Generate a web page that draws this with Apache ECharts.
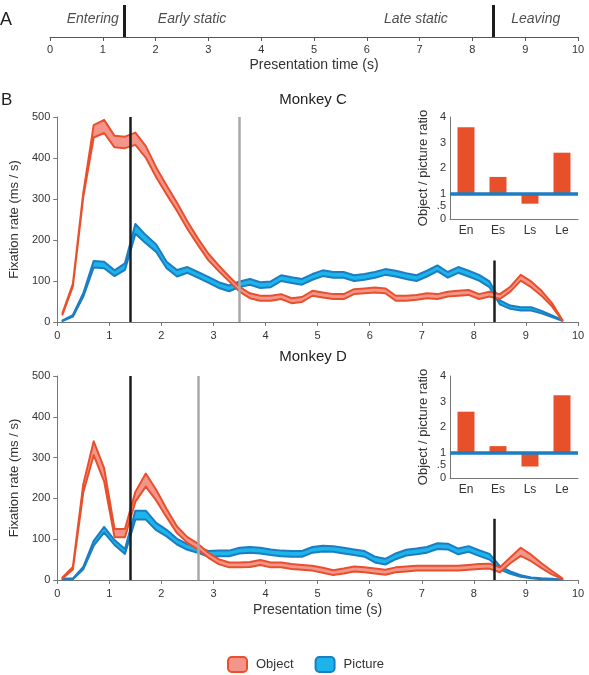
<!DOCTYPE html>
<html>
<head>
<meta charset="utf-8">
<script src="https://cdn.jsdelivr.net/npm/echarts@6/dist/echarts.min.js"></script>
<style>
  html, body { margin: 0; padding: 0; background: #fff; }
  #chart { width: 589px; height: 675px; }
</style>
</head>
<body>
<div id="chart"></div>
<script>
// sample times (s)
const times = [0.1, 0.3, 0.5, 0.7, 0.9, 1.1, 1.3, 1.5, 1.7, 1.9, 2.1, 2.3, 2.5, 2.7, 2.9, 3.1, 3.3, 3.5, 3.7, 3.9,
  4.1, 4.3, 4.5, 4.7, 4.9, 5.1, 5.3, 5.5, 5.7, 5.9, 6.1, 6.3, 6.5, 6.7, 6.9, 7.1, 7.3, 7.5, 7.7, 7.9,
  8.1, 8.3, 8.5, 8.7, 8.9, 9.1, 9.3, 9.5, 9.7];

// Monkey C
const objMeanC = [20, 90, 310, 465, 477, 440, 438, 447, 415, 365, 322, 281, 236, 196, 159, 131, 105, 80, 64, 58,
  58, 62, 52, 55, 70, 66, 62, 62, 74, 76, 78, 76, 58, 58, 60, 64, 62, 68, 70, 72,
  62, 68, 62, 80, 108, 92, 70, 42, 4];
const objErrC = [2, 3, 5, 15, 16, 14, 14, 15, 14, 12, 11, 10, 9, 8, 8, 7, 6, 6, 6, 6,
  6, 6, 6, 6, 6, 6, 6, 6, 6, 6, 6, 6, 6, 6, 6, 6, 6, 6, 6, 6,
  6, 6, 6, 6, 7, 7, 6, 4, 1];
const picMeanC = [3, 15, 66, 141, 139, 119, 135, 227, 202, 180, 139, 119, 127, 115, 103, 90, 82, 92, 98, 90,
  92, 107, 102, 98, 110, 119, 115, 115, 107, 110, 115, 122, 118, 112, 107, 118, 131, 115, 127, 118,
  108, 92, 48, 36, 32, 32, 24, 14, 4];
const picErrC = [1, 2, 4, 8, 8, 7, 8, 12, 10, 9, 8, 8, 7, 7, 7, 7, 7, 7, 7, 7,
  7, 7, 7, 7, 7, 7, 7, 7, 7, 7, 7, 7, 7, 7, 7, 7, 7, 7, 7, 7,
  7, 7, 5, 4, 4, 4, 3, 2, 1];

// Monkey D
const objMeanD = [5, 29, 225, 323, 258, 115, 115, 204, 245, 208, 164, 123, 98, 82, 61, 45, 37, 37, 38, 43,
  37, 37, 33, 31, 29, 24, 18, 22, 27, 25, 22, 19, 25, 27, 29, 29, 29, 29, 29, 31,
  33, 34, 25, 48, 69, 54, 35, 18, 3];
const objErrD = [1, 3, 10, 17, 16, 10, 10, 12, 16, 13, 10, 8, 7, 7, 6, 6, 6, 6, 6, 6,
  6, 6, 6, 6, 6, 6, 6, 6, 6, 6, 6, 6, 6, 6, 6, 6, 6, 6, 6, 6,
  6, 6, 6, 7, 10, 8, 6, 4, 1];
const picMeanD = [2, 3, 29, 90, 123, 92, 70, 159, 159, 131, 115, 94, 81, 74, 64, 65, 65, 72, 74, 72,
  68, 65, 64, 64, 74, 77, 76, 72, 68, 64, 50, 45, 58, 67, 70, 74, 83, 82, 70, 76,
  66, 57, 30, 18, 10, 5, 3, 2, 1];
const picErrD = [1, 1, 3, 6, 7, 6, 6, 11, 11, 9, 8, 7, 7, 7, 7, 7, 7, 7, 7, 7,
  7, 7, 7, 7, 7, 7, 7, 7, 7, 7, 7, 7, 7, 7, 7, 7, 7, 7, 7, 7,
  7, 7, 4, 3, 2, 1, 1, 1, 0];

// phases
const phaseNames = ['Entering', 'Early static', 'Late static', 'Leaving'];
const phaseCenters = [0.81, 2.69, 6.93, 9.2];
const phaseBounds = [1.4, 8.4];
const grayLineC = 3.5;
const grayLineD = 2.7;
const leaveMarkTop = 150;

// object / picture ratio insets
const ratioCats = ['En', 'Es', 'Ls', 'Le'];
const ratioC = [3.6, 1.65, 0.6, 2.6];
const ratioD = [2.6, 1.25, 0.45, 3.25];

const FONT = 'Liberation Sans, Arial, sans-serif';
const RED = '#e8502b', RED_FILL = '#f4958b';
const BLUE = '#1b7dc2', BLUE_FILL = '#1cb4ea';
const AX = '#777';

// mean +/- err drawn as one filled polygon with an outline
function band(name, idx, mean, err, fill, edge, z) {
  const rows = mean.map((m, i) => [times[i], m - err[i], m + err[i]]);
  return {
    type: 'custom', name: name, xAxisIndex: idx, yAxisIndex: idx, z: z, silent: true,
    data: rows, encode: { x: 0, y: [1, 2] },
    renderItem: function (params, api) {
      if (params.dataIndex !== 0) return null;
      const top = rows.map(r => api.coord([r[0], r[2]]));
      const bottom = rows.slice().reverse().map(r => api.coord([r[0], r[1]]));
      return {
        type: 'polygon',
        shape: { points: top.concat(bottom) },
        style: { fill: fill, stroke: edge, lineWidth: 2, lineJoin: 'round' }
      };
    }
  };
}

function vlines(idx, gray) {
  return [
    { type: 'line', xAxisIndex: idx, yAxisIndex: idx, data: [], z: 1, silent: true,
      markLine: { symbol: 'none', silent: true, label: { show: false }, animation: false,
        lineStyle: { color: '#a9a9a9', width: 2.5, type: 'solid' },
        data: [{ xAxis: gray }] } },
    { type: 'line', xAxisIndex: idx, yAxisIndex: idx, data: [], z: 6, silent: true,
      markLine: { symbol: 'none', silent: true, label: { show: false }, animation: false,
        lineStyle: { color: '#1c1c1c', width: 2.5, type: 'solid' },
        data: [{ xAxis: phaseBounds[0] },
          [{ coord: [phaseBounds[1], 0] }, { coord: [phaseBounds[1], leaveMarkTop] }]] } }
  ];
}

function ratioSeries(idx, vals) {
  return [
    { type: 'bar', xAxisIndex: idx, yAxisIndex: idx, stack: 'r' + idx, barWidth: 17, silent: true,
      itemStyle: { color: 'rgba(0,0,0,0)' }, data: vals.map(v => Math.min(v, 1)) },
    { type: 'bar', xAxisIndex: idx, yAxisIndex: idx, stack: 'r' + idx, barWidth: 17, silent: true,
      itemStyle: { color: RED }, data: vals.map(v => Math.abs(v - 1)),
      markLine: { symbol: 'none', silent: true, label: { show: false }, animation: false,
        lineStyle: { color: BLUE, width: 3.5, type: 'solid' }, data: [{ yAxis: 1 }] } }
  ];
}

function mainX(idx, withName) {
  return {
    gridIndex: idx, type: 'value', min: 0, max: 10, interval: 1,
    name: withName ? 'Presentation time (s)' : '', nameLocation: 'middle', nameGap: 23,
    nameTextStyle: { fontFamily: FONT, fontSize: 14, color: '#333' },
    axisLine: { lineStyle: { color: AX } },
    axisTick: { length: 4, lineStyle: { color: AX } },
    axisLabel: { fontFamily: FONT, fontSize: 11, color: '#333', margin: 8 },
    splitLine: { show: false }
  };
}
function mainY(idx) {
  return {
    gridIndex: idx, type: 'value', min: 0, max: 500, interval: 100,
    name: 'Fixation rate (ms / s)', nameLocation: 'middle', nameGap: 31, nameRotate: 90,
    nameTextStyle: { fontFamily: FONT, fontSize: 13, color: '#333' },
    axisLine: { show: true, lineStyle: { color: AX } },
    axisTick: { show: true, length: 4, lineStyle: { color: AX } },
    axisLabel: { fontFamily: FONT, fontSize: 11, color: '#333', margin: 7 },
    splitLine: { show: false }
  };
}
function insetX(idx) {
  return {
    gridIndex: idx, type: 'category', data: ratioCats,
    axisLine: { lineStyle: { color: AX } }, axisTick: { show: false },
    axisLabel: { fontFamily: FONT, fontSize: 12, color: '#333', margin: 6 }
  };
}
function insetY(idx) {
  return {
    gridIndex: idx, type: 'value', min: 0, max: 4, interval: 0.5,
    name: 'Object / picture ratio', nameLocation: 'middle', nameGap: 20, nameRotate: 90,
    nameTextStyle: { fontFamily: FONT, fontSize: 13, color: '#333' },
    axisLine: { show: true, lineStyle: { color: AX } }, axisTick: { show: false },
    axisLabel: { fontFamily: FONT, fontSize: 11, color: '#333', margin: 4,
      formatter: v => (v === 0.5 ? '.5' : (v % 1 === 0 ? String(v) : '')) },
    splitLine: { show: false }
  };
}

const chart = echarts.init(document.getElementById('chart'));
chart.setOption({
  animation: false,
  textStyle: { fontFamily: FONT },
  title: [
    { text: 'A', left: 0, top: 11, padding: 0, textStyle: { fontFamily: FONT, fontSize: 18, fontWeight: 'normal', color: '#222' } },
    { text: 'B', left: 1, top: 92, padding: 0, textStyle: { fontFamily: FONT, fontSize: 17, fontWeight: 'normal', color: '#222' } },
    { text: 'Monkey C', left: 313, textAlign: 'center', top: 92, padding: 0, textStyle: { fontFamily: FONT, fontSize: 15, fontWeight: 'normal', color: '#222' } },
    { text: 'Monkey D', left: 313, textAlign: 'center', top: 349, padding: 0, textStyle: { fontFamily: FONT, fontSize: 15, fontWeight: 'normal', color: '#222' } }
  ],
  legend: {
    left: 222, top: 651, itemWidth: 19, itemHeight: 15, itemGap: 21, icon: 'roundRect',
    textStyle: { fontFamily: FONT, fontSize: 13, color: '#333', padding: [0, 0, 0, 4] },
    data: [
      { name: 'Object', itemStyle: { color: RED_FILL, borderColor: RED, borderWidth: 2 } },
      { name: 'Picture', itemStyle: { color: BLUE_FILL, borderColor: BLUE, borderWidth: 2 } }
    ]
  },
  grid: [
    { left: 50, width: 528, top: 5, height: 32 },
    { left: 50, width: 528, top: 117, height: 205 },
    { left: 50, width: 528, top: 376, height: 204 },
    { left: 450, width: 128, top: 117, height: 102 },
    { left: 450, width: 128, top: 376, height: 102 }
  ],
  xAxis: [
    {
      gridIndex: 0, type: 'value', min: 0, max: 10, interval: 1,
      name: 'Presentation time (s)', nameLocation: 'middle', nameGap: 21,
      nameTextStyle: { fontFamily: FONT, fontSize: 14, color: '#333' },
      axisLine: { lineStyle: { color: '#555' } },
      axisTick: { length: 4, lineStyle: { color: '#555' } },
      axisLabel: { fontFamily: FONT, fontSize: 11, color: '#333', margin: 7 },
      splitLine: { show: false }
    },
    mainX(1, false), mainX(2, true), insetX(3), insetX(4)
  ],
  yAxis: [
    { gridIndex: 0, type: 'value', min: 0, max: 1, show: false },
    mainY(1), mainY(2), insetY(3), insetY(4)
  ],
  series: [
    {
      type: 'scatter', xAxisIndex: 0, yAxisIndex: 0, symbolSize: 0, silent: true,
      data: phaseNames.map((n, i) => ({ name: n, value: [phaseCenters[i], 0.55] })),
      label: { show: true, position: 'inside', formatter: p => p.name,
        fontFamily: FONT, fontSize: 14, fontStyle: 'italic', color: '#222' },
      markLine: { symbol: 'none', silent: true, label: { show: false }, animation: false,
        lineStyle: { color: '#1c1c1c', width: 3, type: 'solid' },
        data: phaseBounds.map(b => ({ xAxis: b })) }
    },
    ...vlines(1, grayLineC),
    band('Picture', 1, picMeanC, picErrC, BLUE_FILL, BLUE, 2),
    band('Object', 1, objMeanC, objErrC, RED_FILL, RED, 3),
    ...vlines(2, grayLineD),
    band('Picture', 2, picMeanD, picErrD, BLUE_FILL, BLUE, 2),
    band('Object', 2, objMeanD, objErrD, RED_FILL, RED, 3),
    ...ratioSeries(3, ratioC),
    ...ratioSeries(4, ratioD)
  ]
});
</script>
</body>
</html>
